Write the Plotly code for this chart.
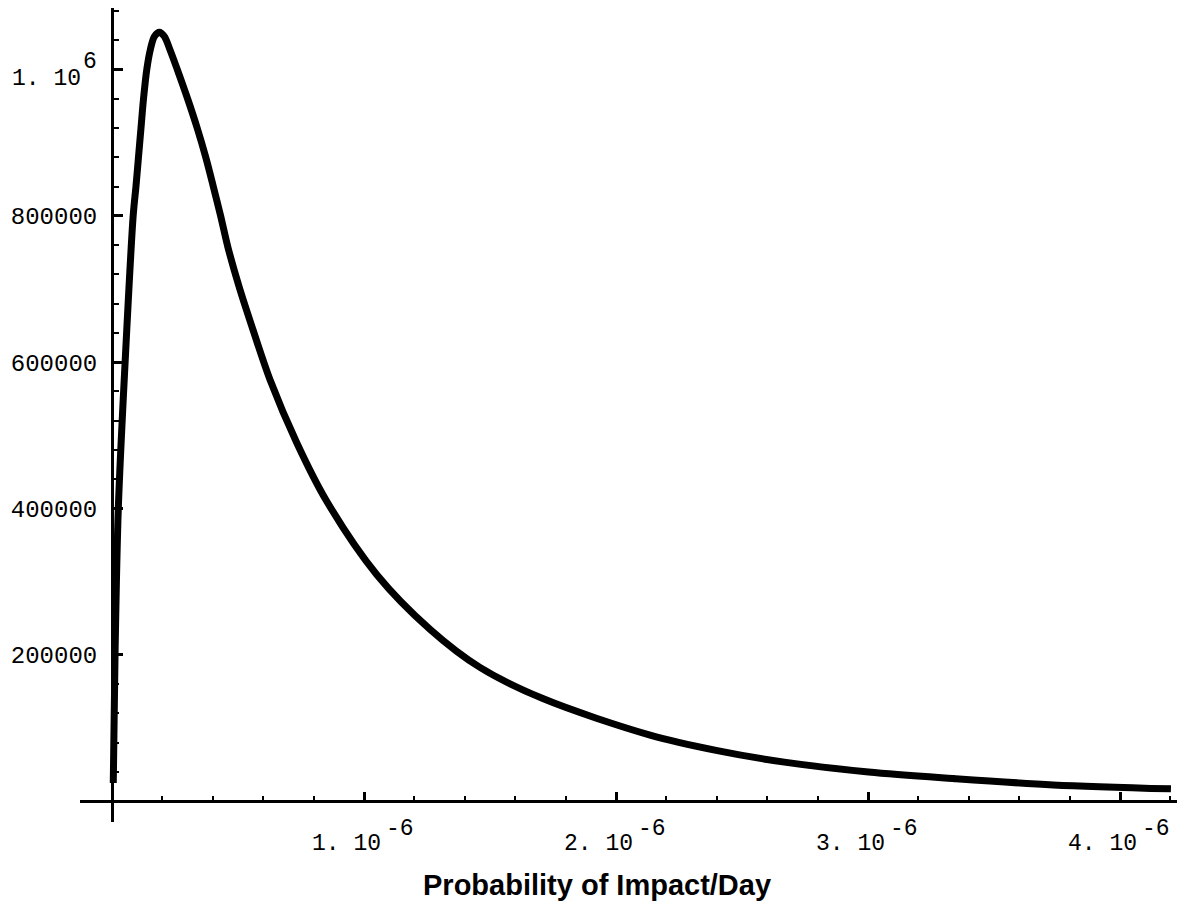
import plotly.graph_objects as go

# Probability of impact per day, in units of 1e-6
prob_micro = [0.005, 0.012, 0.025, 0.052, 0.084, 0.095, 0.105, 0.115, 0.125, 0.138,
              0.152, 0.168, 0.188, 0.208, 0.230, 0.259, 0.300, 0.338, 0.372, 0.402,
              0.431, 0.460, 0.508, 0.554, 0.627, 0.733, 0.852, 1.050, 1.262, 1.460,
              1.712, 2.135, 2.402, 2.668, 3.002, 3.335, 3.735, 4.202]
# Curve values
estimate = [25000, 200000, 400000, 600000, 800000, 840000, 880000, 920000, 960000, 1000000,
            1027000, 1045000, 1051000, 1045000, 1027000, 1000000, 960000, 920000, 880000, 840000,
            800000, 757000, 699000, 650000, 576000, 490000, 410000, 310000, 235000, 183000,
            140000, 90500, 69300, 53500, 40000, 31200, 22400, 17000]

prob = [p * 1e-6 for p in prob_micro]

x_major = [1e-6, 2e-6, 3e-6, 4e-6]
x_major_base = ["1. 10", "2. 10", "3. 10", "4. 10"]
x_major_exp = ["-6", "-6", "-6", "-6"]
x_minor = [k * 0.2e-6 for k in range(1, 22) if k % 5 != 0]

y_major = [200000, 400000, 600000, 800000, 1000000]
y_major_text = ["200000", "400000", "600000", "800000", ""]
y_top_base, y_top_exp = "1. 10", "6"
y_minor = [k * 40000 for k in range(1, 28) if k % 5 != 0]

X_RANGE = [-0.127e-6, 4.226e-6]
Y_RANGE = [-28300, 1084000]

# axes cross at the origin
x_axis_pos = (0 - Y_RANGE[0]) / (Y_RANGE[1] - Y_RANGE[0])
y_axis_pos = (0 - X_RANGE[0]) / (X_RANGE[1] - X_RANGE[0])

MONO = "Liberation Mono, Courier New, monospace"
tick_font = dict(family=MONO, size=23, color="black")
ytick_font = dict(family=MONO, size=24, color="black")

fig = go.Figure(
    go.Scatter(
        x=prob, y=estimate, mode="lines",
        line=dict(color="black", width=7, shape="spline", smoothing=0.9),
        hoverinfo="skip",
    )
)

fig.update_layout(
    width=1177, height=919,
    margin=dict(l=80, r=0, t=8, b=97),
    paper_bgcolor="white", plot_bgcolor="white",
    showlegend=False,
    xaxis=dict(
        range=X_RANGE, showgrid=False, zeroline=False,
        showline=True, linecolor="black", linewidth=3,
        anchor="free", position=x_axis_pos,
        ticks="inside", ticklen=8, tickwidth=2.5, tickcolor="black",
        tickmode="array", tickvals=x_major, showticklabels=False,
        minor=dict(tickmode="array", tickvals=x_minor, ticks="inside",
                   ticklen=4, tickwidth=2, tickcolor="black", showgrid=False),
    ),
    yaxis=dict(
        range=Y_RANGE, showgrid=False, zeroline=False,
        showline=True, linecolor="black", linewidth=3,
        anchor="free", position=y_axis_pos,
        ticks="inside", ticklen=9, tickwidth=2.5, tickcolor="black",
        tickmode="array", tickvals=y_major, ticktext=y_major_text,
        tickfont=ytick_font, ticklabelstandoff=9,
        minor=dict(tickmode="array", tickvals=y_minor, ticks="inside",
                   ticklen=5, tickwidth=2, tickcolor="black", showgrid=False),
    ),
)

# x tick labels: mantissa with a full-size raised exponent
for xv, base, exp in zip(x_major, x_major_base, x_major_exp):
    fig.add_annotation(text=base, x=xv, y=0, xref="x", yref="y",
                       xanchor="right", yanchor="middle", xshift=19, yshift=-43,
                       showarrow=False, font=tick_font)
    fig.add_annotation(text=exp, x=xv, y=0, xref="x", yref="y",
                       xanchor="left", yanchor="middle", xshift=20, yshift=-28,
                       showarrow=False, font=tick_font)

# top y tick label
fig.add_annotation(text=y_top_base, x=0, y=y_major[-1], xref="x", yref="y",
                   xanchor="right", yanchor="middle", xshift=-29, yshift=-10,
                   showarrow=False, font=tick_font)
fig.add_annotation(text=y_top_exp, x=0, y=y_major[-1], xref="x", yref="y",
                   xanchor="left", yanchor="middle", xshift=-31, yshift=7,
                   showarrow=False, font=tick_font)

fig.add_annotation(
    text="<b>Probability of Impact/Day</b>",
    xref="paper", yref="paper", x=0.471, y=-0.077,
    xanchor="center", yanchor="middle", showarrow=False,
    font=dict(family="Liberation Sans, Arial, sans-serif", size=29, color="black"),
)

fig.write_html("out.html")
